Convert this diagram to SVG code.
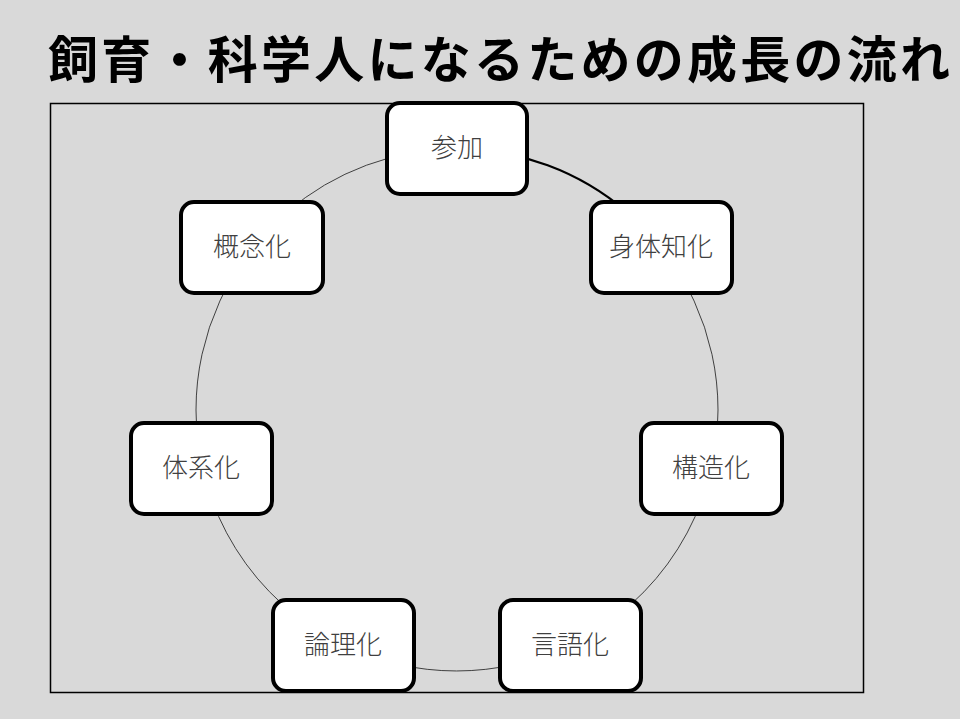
<svg xmlns="http://www.w3.org/2000/svg" width="960" height="719" viewBox="0 0 960 719">
<style>
.node rect{fill:#fff;stroke:#000;stroke-width:4}
.node text{font-family:"Noto Sans CJK JP","Noto Sans CJK SC",sans-serif;font-weight:300;font-size:26px;fill:#404040;text-anchor:middle;dominant-baseline:central}
.conn path{fill:none;stroke:#404040;stroke-width:1}
</style>
<rect width="960" height="719" fill="#d9d9d9"/>
<text x="48" y="78" textLength="902" lengthAdjust="spacing" font-family="Noto Sans CJK JP, sans-serif" font-weight="700" font-size="50" fill="#000">飼育・科学人になるための成長の流れ</text>
<rect x="50.5" y="103.5" width="813" height="589" fill="none" stroke="#000" stroke-width="1.5"/>
<g id="connectors" class="conn">
<path d="M457,149 A261,261 0 0 1 627,212" style="stroke:#000;stroke-width:2.2"/>
<path d="M627,212 A261,261 0 0 1 718,410"/>
<path d="M718,410 A261,261 0 0 1 570,645"/>
<path d="M570,645 A261,261 0 0 1 343,645"/>
<path d="M343,645 A261,261 0 0 1 196,410"/>
<path d="M196,410 A261,261 0 0 1 287,212"/>
<path d="M287,212 A261,261 0 0 1 457,149"/>
</g>
<g id="n1" class="node"><rect x="387" y="103" width="140" height="91" rx="13"/><text x="457" y="145">参加</text></g>
<g id="n2" class="node"><rect x="591" y="202" width="141" height="91" rx="13"/><text x="661" y="244">身体知化</text></g>
<g id="n3" class="node"><rect x="641" y="423" width="141" height="91" rx="13"/><text x="711" y="465">構造化</text></g>
<g id="n4" class="node"><rect x="500" y="600" width="141" height="91" rx="13"/><text x="570" y="642">言語化</text></g>
<g id="n5" class="node"><rect x="273" y="600" width="141" height="91" rx="13"/><text x="343" y="642">論理化</text></g>
<g id="n6" class="node"><rect x="131" y="423" width="141" height="91" rx="13"/><text x="201" y="465">体系化</text></g>
<g id="n7" class="node"><rect x="181" y="202" width="142" height="91" rx="13"/><text x="252" y="244">概念化</text></g>
</svg>
